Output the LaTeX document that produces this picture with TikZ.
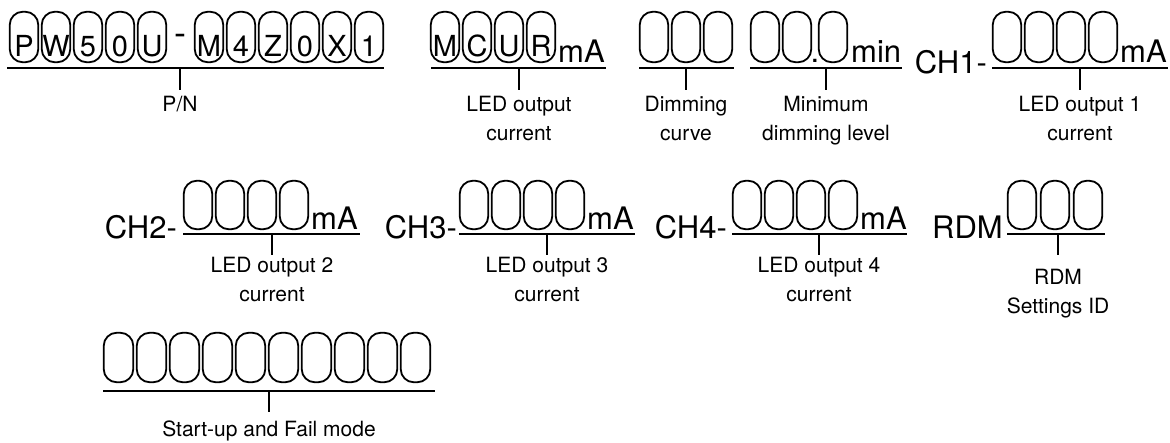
\documentclass[tikz,border=0pt]{standalone}
\usepackage{fontspec}
\setmainfont{TeX Gyre Heros}
\begin{document}
\begin{tikzpicture}[x=1pt,y=-1pt,
  seg/.style={draw, line width=1.8pt, rounded corners=13pt, minimum width=28.5pt, inner sep=0pt},
  segA/.style={seg, minimum height=50.5pt},
  segB/.style={seg, minimum height=48.5pt},
  segC/.style={seg, minimum height=49.5pt, minimum width=29.5pt},
  big/.style={font=\fontsize{31}{31}\selectfont, inner sep=0pt, anchor=base},
  bigW/.style={big, anchor=base west},
  bigE/.style={big, anchor=base east},
  chr/.style={font=\fontsize{29}{29}\selectfont, inner sep=0pt, anchor=base},
  lbl/.style={font=\fontsize{21}{29}\selectfont, align=center, inner sep=0pt, anchor=north},
  uline/.style={line width=2.6pt},
  tickln/.style={line width=2pt}
]
\useasboundingbox (0,0) rectangle (1170,442);

% ---------- Row 1: P/N ----------
\foreach \c [count=\i from 0] in {P,W,5,0,U} {
  \node[segA] (pn\i) at ({24+32*\i},37) {};
  \node[chr] (pnc\i) at ({24+32*\i},56) {\c};
}
\node[big, font=\fontsize{36}{36}\selectfont] (pndash) at (180,45) {-};
\foreach \c [count=\i from 5] in {M,4,Z,0,X,1} {
  \node[segA] (pn\i) at ({209+32*(\i-5)},37) {};
  \node[chr] (pnc\i) at ({209+32*(\i-5)},56) {\c};
}
\coordinate (pnL) at (7,68); \coordinate (pnR) at (384,68);
\draw[uline] (pnL) -- (pnR);
\coordinate (pnT) at (180,68); \coordinate (pnB) at (180,90);
\draw[tickln] (pnT) -- (pnB);
\node[lbl] (pnlbl) at (180,96) {P/N};

% ---------- MCUR ----------
\foreach \c [count=\i from 0] in {M,C,U,R} {
  \node[segA] (mc\i) at ({445+32*\i},37) {};
  \node[chr] (mcc\i) at ({445+32*\i},56) {\c};
}
\node[bigW] (mcma) at (558,62) {mA};
\coordinate (mcL) at (431,68); \coordinate (mcR) at (606,68);
\draw[uline] (mcL) -- (mcR);
\coordinate (mcT) at (519,68); \coordinate (mcB) at (519,90);
\draw[tickln] (mcT) -- (mcB);
\node[lbl] (mclbl) at (519,96) {LED output\\current};

% ---------- Dimming curve ----------
\foreach \i in {0,1,2} {
  \node[segA] (dc\i) at ({654+32*\i},37) {};
}
\coordinate (dcL) at (639,68); \coordinate (dcR) at (734,68);
\draw[uline] (dcL) -- (dcR);
\coordinate (dcT) at (686,68); \coordinate (dcB) at (686,90);
\draw[tickln] (dcT) -- (dcB);
\node[lbl] (dclbl) at (686,96) {Dimming\\curve};

% ---------- Minimum dimming level ----------
\node[segA] (md0) at (765,37) {};
\node[segA] (md1) at (797,37) {};
\node[big] (mddot) at (815,62) {.};
\node[segA] (md2) at (833,37) {};
\node[bigW] (mdmin) at (851,62) {min};
\coordinate (mdL) at (750,68); \coordinate (mdR) at (902,68);
\draw[uline] (mdL) -- (mdR);
\coordinate (mdT) at (826,68); \coordinate (mdB) at (826,90);
\draw[tickln] (mdT) -- (mdB);
\node[lbl] (mdlbl) at (826,96) {Minimum\\dimming level};

% ---------- CH1 ----------
\node[bigE] (ch1t) at (987,73) {CH1-};
\foreach \i in {0,1,2,3} {
  \node[segA] (cha\i) at ({1007+32*\i},37) {};
}
\node[bigW] (ch1ma) at (1120,62) {mA};
\coordinate (ch1L) at (992,68); \coordinate (ch1R) at (1168,68);
\draw[uline] (ch1L) -- (ch1R);
\coordinate (ch1T) at (1080,68); \coordinate (ch1B) at (1080,90);
\draw[tickln] (ch1T) -- (ch1B);
\node[lbl] (ch1lbl) at (1080,96) {LED output 1\\current};

% ---------- Row 2: CH2 ----------
\node[bigE] (ch2t) at (177,238) {CH2-};
\foreach \i in {0,1,2,3} {
  \node[segB] (chb\i) at ({198+32*\i},205) {};
}
\node[bigW] (ch2ma) at (311,229) {mA};
\coordinate (ch2L) at (183,234); \coordinate (ch2R) at (360,234);
\draw[uline] (ch2L) -- (ch2R);
\coordinate (ch2T) at (272,234); \coordinate (ch2B) at (272,255);
\draw[tickln] (ch2T) -- (ch2B);
\node[lbl] (ch2lbl) at (272,257) {LED output 2\\current};

% ---------- CH3 ----------
\node[bigE] (ch3t) at (457,238) {CH3-};
\foreach \i in {0,1,2,3} {
  \node[segB] (chc\i) at ({474+32*\i},205) {};
}
\node[bigW] (ch3ma) at (587,229) {mA};
\coordinate (ch3L) at (459,234); \coordinate (ch3R) at (635,234);
\draw[uline] (ch3L) -- (ch3R);
\coordinate (ch3T) at (547,234); \coordinate (ch3B) at (547,255);
\draw[tickln] (ch3T) -- (ch3B);
\node[lbl] (ch3lbl) at (547,257) {LED output 3\\current};

% ---------- CH4 ----------
\node[bigE] (ch4t) at (727,238) {CH4-};
\foreach \i in {0,1,2,3} {
  \node[segB] (chd\i) at ({747+32*\i},205) {};
}
\node[bigW] (ch4ma) at (860,229) {mA};
\coordinate (ch4L) at (732,234); \coordinate (ch4R) at (907,234);
\draw[uline] (ch4L) -- (ch4R);
\coordinate (ch4T) at (819,234); \coordinate (ch4B) at (819,255);
\draw[tickln] (ch4T) -- (ch4B);
\node[lbl] (ch4lbl) at (819,257) {LED output 4\\current};

% ---------- RDM ----------
\node[bigE] (rdmt) at (1003,238) {RDM};
\foreach \i in {0,1,2} {
  \node[segB] (rd\i) at ({1022+33*\i},205) {};
}
\coordinate (rdL) at (1007,234); \coordinate (rdR) at (1105,234);
\draw[uline] (rdL) -- (rdR);
\coordinate (rdT) at (1058,234); \coordinate (rdB) at (1058,255);
\draw[tickln] (rdT) -- (rdB);
\node[lbl] (rdlbl) at (1058,269) {RDM\\Settings ID};

% ---------- Row 3: Start-up and Fail mode ----------
\foreach \i in {0,...,9} {
  \node[segC] (sf\i) at ({118.5+33*\i},357.5) {};
}
\coordinate (sfL) at (103,391); \coordinate (sfR) at (435,391);
\draw[uline] (sfL) -- (sfR);
\coordinate (sfT) at (269,391); \coordinate (sfB) at (269,412);
\draw[tickln] (sfT) -- (sfB);
\node[lbl] (sflbl) at (269,421) {Start-up and Fail mode};
\end{tikzpicture}
\end{document}
